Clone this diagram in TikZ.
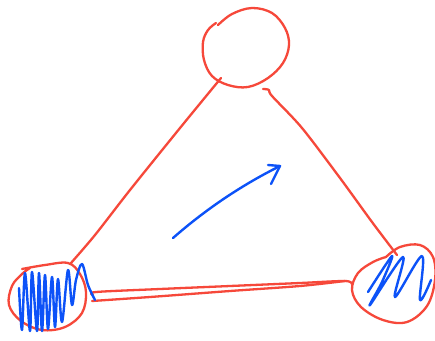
\documentclass[tikz,border=0pt]{standalone}
\definecolor{penred}{RGB}{246,72,58}
\definecolor{penblue}{RGB}{12,82,248}
\begin{document}
\begin{tikzpicture}[x=1pt,y=-1pt,
  redpen/.style={draw=penred,line width=2.3pt,line cap=round,line join=round},
  bluepen/.style={draw=penblue,line width=2.4pt,line cap=round,line join=round}]
\useasboundingbox[fill=white] (0,0) rectangle (435,340);
% top circle
\draw[redpen] plot[smooth,tension=0.6] coordinates {(218,25) (232,14) (252,8) (272,13) (285,28) (289,45) (283,63) (268,78) (248,87) (228,85) (212,76) (204,60) (203,42) (208,30) (216,23)};
% left edge
\draw[redpen] plot[smooth,tension=0.5] coordinates {(221,78) (180,128) (130,190) (95,235) (71,263)};
% right edge
\draw[redpen] plot[smooth,tension=0.5] coordinates {(263,89) (269,90) (272,96) (302,128) (340,178) (372,222) (397,255)};
% bottom edge, double stroke
\draw[redpen] plot[smooth,tension=0.5] coordinates {(93,295) (96,292) (160,289) (230,286) (300,283) (345,281) (352,284)};
\draw[redpen] plot[smooth,tension=0.5] coordinates {(92,301) (150,297) (230,291) (300,286) (345,281)};
% left circle
\draw[redpen] plot[smooth,tension=0.6] coordinates {(22,269) (45,265) (68,263) (80,274) (86,292) (82,313) (65,327) (42,330) (21,321) (9,305) (12,286) (22,274) (30,268)};
% right circle
\draw[redpen] plot[smooth,tension=0.6] coordinates {(386,257) (400,247) (420,245) (433,257) (435,280) (427,306) (407,322) (383,320) (361,307) (352,290) (358,273) (373,262) (386,257)};
% left scribble
\draw[bluepen] plot[smooth,tension=0.55] coordinates {(19,288) (22,330) (25,273) (30,331) (32,272) (37,331) (39,273) (42,331) (45,275) (48,329) (52,277) (55,327) (58,279) (62,322) (68,270) (72,305) (76,280) (82,264) (88,285) (95,300)};
% right scribble
\draw[bluepen] plot[smooth,tension=0.55] coordinates {(368,292) (392,256) (382,282) (370,305) (403,257) (395,297) (422,256) (420,300) (431,280)};
% arrow
\coordinate (a0) at (173,238);
\coordinate (a1) at (280,166);
\draw[bluepen] (a0) .. controls (205,210) and (240,186) .. (a1);
\draw[bluepen] (268,165) -- (a1) -- (271,184);
\end{tikzpicture}
\end{document}
